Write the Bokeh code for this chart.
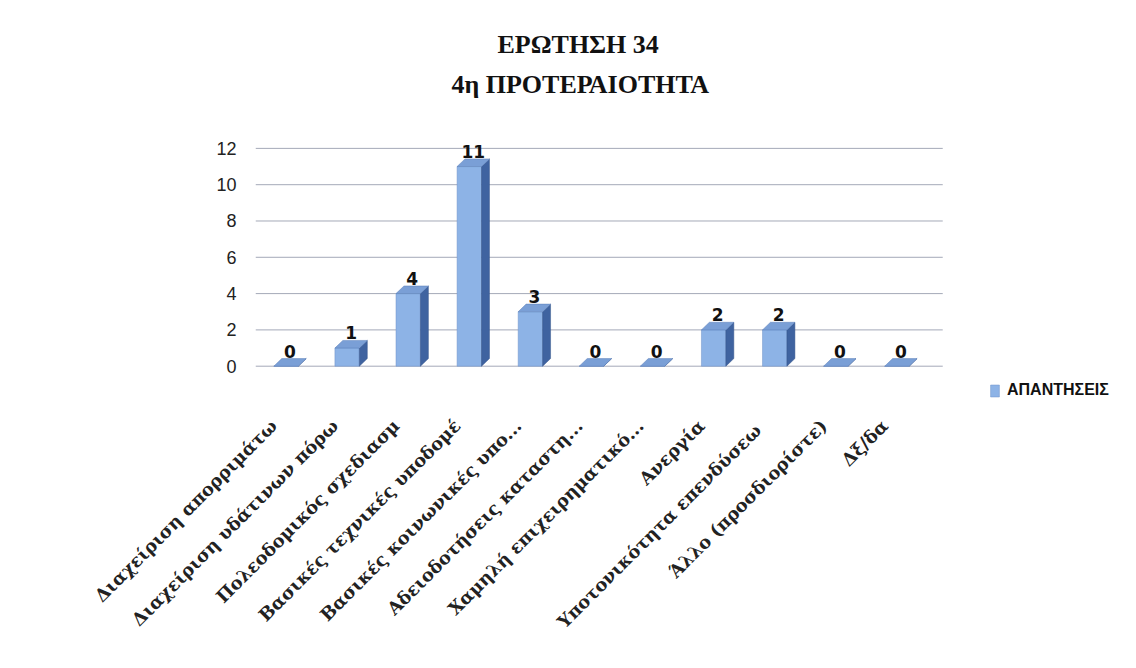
from bokeh.plotting import figure
from bokeh.models import Range1d, FixedTicker, Legend, LegendItem, Title
from bokeh.embed import file_html
from bokeh.resources import INLINE
from bokeh.core.properties import value
import math

title_lines = ["ΕΡΩΤΗΣΗ 34", "4η ΠΡΟΤΕΡΑΙΟΤΗΤΑ"]
categories = [
    "Διαχείριση απορριμάτω",
    "Διαχείριση υδάτινων πόρω",
    "Πολεοδομικός σχεδιασμ",
    "Βασικές τεχνικές υποδομέ",
    "Βασικές κοινωνικές υπο...",
    "Αδειοδοτήσεις καταστη...",
    "Χαμηλή επιχειρηματικό...",
    "Ανεργία",
    "Υποτονικότητα  επενδύσεω",
    "Άλλο (προσδιορίστε)",
    "Δξ/δα",
]
values = [0, 1, 4, 11, 3, 0, 0, 2, 2, 0, 0]
series_name = "ΑΠΑΝΤΗΣΕΙΣ"
y_ticks = [0, 2, 4, 6, 8, 10, 12]

n = len(categories)
centers = [i + 0.5 for i in range(n)]
label_pos = [c - 0.2 for c in centers]
half_w = 0.2
dx = 0.13
dy = 0.42

p = figure(width=1120, height=652, output_backend="svg", toolbar_location=None,
           x_range=Range1d(0, 14.16), y_range=Range1d(-2.0, 12.6),
           min_border_left=255, min_border_right=0, min_border_top=137, min_border_bottom=250)
p.outline_line_color = None
p.background_fill_color = "white"
p.border_fill_color = "white"

# horizontal grid lines, only across the category area
p.segment(x0=[0] * len(y_ticks), x1=[n + 0.25] * len(y_ticks), y0=y_ticks, y1=y_ticks,
          line_color="#a4a9b8", line_width=1)

# front faces
front = p.vbar(x=centers, top=values, width=2 * half_w, bottom=0,
               fill_color="#8db3e6", line_color="#6f93c8", line_width=0.5)
# side and top faces (3D look)
side_xs, side_ys, top_xs, top_ys = [], [], [], []
for c, v in zip(centers, values):
    side_xs.append([c + half_w, c + half_w + dx, c + half_w + dx, c + half_w])
    side_ys.append([0, dy, v + dy, v])
    top_xs.append([c - half_w, c + half_w, c + half_w + dx, c - half_w + dx])
    top_ys.append([v, v, v + dy, v + dy])
p.patches(side_xs, side_ys, fill_color="#3f63a0", line_color="#34548a", line_width=0.5)
p.patches(top_xs, top_ys, fill_color="#7a9fd6", line_color="#5b7fb8", line_width=0.5)

# value labels
p.text(x=[c + dx / 2 for c in centers], y=[v + dy for v in values], text=[str(v) for v in values],
       text_font=value("DejaVu Sans"), text_font_style="bold", text_font_size="17px",
       text_align="center", text_baseline="bottom", text_color="#111111", y_offset=-1)

# axes
p.xaxis.ticker = FixedTicker(ticks=label_pos)
p.xaxis.major_label_overrides = {t: lab for t, lab in zip(label_pos, categories)}
p.xaxis.major_label_orientation = math.pi / 4
p.xaxis.major_label_standoff = 14
p.xaxis.major_label_text_font = "DejaVu Serif"
p.xaxis.major_label_text_font_style = "bold"
p.xaxis.major_label_text_font_size = "18px"
p.xaxis.major_label_text_color = "#222222"
p.xaxis.axis_line_color = None
p.xaxis.major_tick_line_color = None
p.xaxis.minor_tick_line_color = None

p.yaxis.ticker = FixedTicker(ticks=y_ticks)
p.yaxis.axis_line_color = None
p.yaxis.major_tick_line_color = None
p.yaxis.minor_tick_line_color = None
p.yaxis.major_label_standoff = 13
p.yaxis.major_label_text_font = "Liberation Sans"
p.yaxis.major_label_text_font_size = "18px"
p.yaxis.major_label_text_color = "#222222"

p.xgrid.grid_line_color = None
p.ygrid.grid_line_color = None

# title: a blank spacer nearest the plot, then the two lines
p.add_layout(Title(text=" ", standoff=36, text_font_size="1px"), "above")
p.add_layout(Title(text=title_lines[1], align="left", offset=196, standoff=0,
                   text_font="Liberation Serif", text_font_style="bold", text_font_size="26px",
                   text_color="#111111"), "above")
p.add_layout(Title(text=title_lines[0], align="left", offset=242, standoff=18,
                   text_font="Liberation Serif", text_font_style="bold", text_font_size="26px",
                   text_color="#111111"), "above")

legend = Legend(items=[LegendItem(label=series_name, renderers=[front])],
                location=(734, 3), padding=0, margin=0, border_line_color=None,
                background_fill_alpha=0, glyph_width=11, glyph_height=15,
                label_text_font="Liberation Sans", label_text_font_style="bold",
                label_text_font_size="16px", label_text_color="#111111", label_standoff=7)
p.add_layout(legend, "center")

open("out.html", "w").write(file_html(p, INLINE))
